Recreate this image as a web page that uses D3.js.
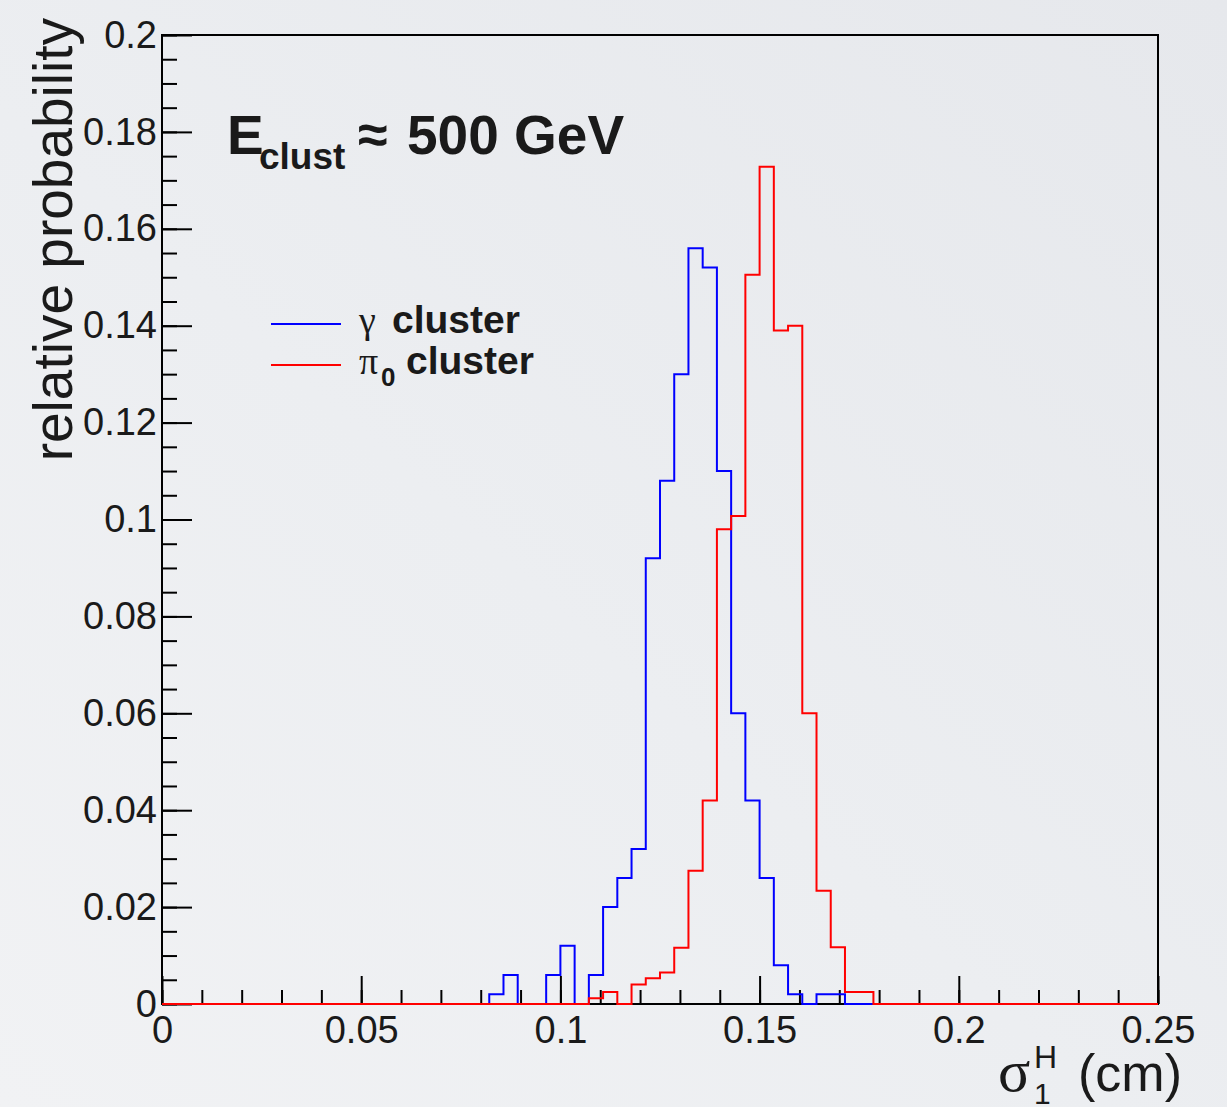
<!DOCTYPE html>
<html>
<head>
<meta charset="utf-8">
<script src="https://cdn.jsdelivr.net/npm/d3@7"></script>
<style>
  html, body { margin: 0; padding: 0; }
  body { width: 1227px; height: 1107px; overflow: hidden; }
  text { font-family: "Liberation Sans", Arial, Helvetica, sans-serif; fill: #1a1a1a; }
  .greek { font-family: "Liberation Serif", "DejaVu Serif", serif; }
</style>
</head>
<body>
<div id="drawing_region"></div>
<script>
// histogram: 70 bins between 0 and 0.25 cm
var nBins = 70;
var xMin = 0, xMax = 0.25;

// gamma cluster (blue), bin contents
var gammaValues = [
    0, 0, 0, 0, 0, 0, 0, 0, 0, 0,
    0, 0, 0, 0, 0, 0, 0, 0, 0, 0,
    0, 0, 0, 0.002, 0.006, 0, 0, 0.006, 0.012, 0,
    0.006, 0.020, 0.026, 0.032, 0.092, 0.108, 0.130, 0.156, 0.152, 0.110,
    0.060, 0.042, 0.026, 0.008, 0.002, 0, 0.002, 0.002, 0, 0,
    0, 0, 0, 0, 0, 0, 0, 0, 0, 0,
    0, 0, 0, 0, 0, 0, 0, 0, 0, 0
];

// pi0 cluster (red), bin contents
var pi0Values = [
    0, 0, 0, 0, 0, 0, 0, 0, 0, 0,
    0, 0, 0, 0, 0, 0, 0, 0, 0, 0,
    0, 0, 0, 0, 0, 0, 0, 0, 0, 0,
    0.0012, 0.0025, 0, 0.004, 0.0053, 0.0065, 0.0116, 0.0275, 0.042, 0.098,
    0.1007, 0.1505, 0.1728, 0.139, 0.140, 0.060, 0.0234, 0.0117, 0.0025, 0.0025,
    0, 0, 0, 0, 0, 0, 0, 0, 0, 0,
    0, 0, 0, 0, 0, 0, 0, 0, 0, 0
];

var xTicks = [0, 0.05, 0.1, 0.15, 0.2, 0.25];
var xTickLabels = ["0", "0.05", "0.1", "0.15", "0.2", "0.25"];
var yTicks = [0, 0.02, 0.04, 0.06, 0.08, 0.1, 0.12, 0.14, 0.16, 0.18, 0.2];
var yTickLabels = ["0", "0.02", "0.04", "0.06", "0.08", "0.1", "0.12", "0.14", "0.16", "0.18", "0.2"];

var width = 1227;
var height = 1107;
var margin = { "top": 35, "bottom": 103, "right": 69, "left": 162 };

var svg = d3.select("#drawing_region")
    .append("svg")
    .attr("width", width)
    .attr("height", height);

// soft grey background
var grad = svg.append("defs").append("linearGradient")
    .attr("id", "bg")
    .attr("x1", "100%").attr("y1", "0%")
    .attr("x2", "0%").attr("y2", "100%");
grad.append("stop").attr("offset", "0%").attr("stop-color", "#e6e8ec");
grad.append("stop").attr("offset", "55%").attr("stop-color", "#eceef1");
grad.append("stop").attr("offset", "100%").attr("stop-color", "#f1f2f4");
svg.append("rect").attr("width", width).attr("height", height).attr("fill", "url(#bg)");

var xScale = d3.scaleLinear()
    .domain([xMin, xMax])
    .range([margin.left, width - margin.right]);

var yScale = d3.scaleLinear()
    .domain([0, 0.2])
    .range([height - margin.bottom, margin.top]);

// bin edges
var binWidth = (xMax - xMin) / nBins;
function toSteps(values) {
    var pts = values.map(function (v, i) { return [xMin + i * binWidth, v]; });
    pts.push([xMax, values[values.length - 1]]);
    return pts;
}

var line = d3.line()
    .x(function (d) { return xScale(d[0]); })
    .y(function (d) { return yScale(d[1]); })
    .curve(d3.curveStepAfter);

// frame
svg.append("rect")
    .attr("x", xScale(xMin))
    .attr("y", yScale(0.2))
    .attr("width", xScale(xMax) - xScale(xMin))
    .attr("height", yScale(0) - yScale(0.2))
    .attr("fill", "none")
    .attr("stroke", "#000")
    .attr("stroke-width", 2);

// x axis: minor then major ticks (pointing inward)
var xMinor = d3.range(0, 26).map(function (i) { return i * 0.01; });
svg.append("g")
    .attr("transform", "translate(0," + yScale(0) + ")")
    .call(d3.axisBottom(xScale).tickValues(xMinor).tickSize(-14).tickFormat(""))
    .call(function (g) { g.select(".domain").remove(); });

var xAxis = svg.append("g")
    .attr("transform", "translate(0," + yScale(0) + ")")
    .call(d3.axisBottom(xScale).tickValues(xTicks).tickSize(-28).tickPadding(12)
        .tickFormat(function (d, i) { return xTickLabels[i]; }));
xAxis.select(".domain").remove();

// y axis
var yMinor = d3.range(0, 41).map(function (i) { return i * 0.005; });
svg.append("g")
    .attr("transform", "translate(" + xScale(0) + ",0)")
    .call(d3.axisLeft(yScale).tickValues(yMinor).tickSize(-15).tickFormat(""))
    .call(function (g) { g.select(".domain").remove(); });

var yAxis = svg.append("g")
    .attr("transform", "translate(" + xScale(0) + ",0)")
    .call(d3.axisLeft(yScale).tickValues(yTicks).tickSize(-30).tickPadding(5)
        .tickFormat(function (d, i) { return yTickLabels[i]; }));
yAxis.select(".domain").remove();

svg.selectAll(".tick line").attr("stroke", "#000").attr("stroke-width", 2);
svg.selectAll(".tick text")
    .style("font-family", "'Liberation Sans', Arial, sans-serif")
    .style("font-size", "38px")
    .attr("fill", "#1a1a1a");

// histograms
svg.append("path")
    .datum(toSteps(gammaValues))
    .attr("d", line)
    .attr("fill", "none")
    .attr("stroke", "#0000ff")
    .attr("stroke-width", 2);

svg.append("path")
    .datum(toSteps(pi0Values))
    .attr("d", line)
    .attr("fill", "none")
    .attr("stroke", "#ff0000")
    .attr("stroke-width", 2);

// axis titles
svg.append("text")
    .attr("transform", "translate(72,18) rotate(-90)")
    .attr("text-anchor", "end")
    .style("font-size", "55px")
    .text("relative probability");

var xt = svg.append("g");
xt.append("text").attr("class", "greek").attr("x", 998).attr("y", 1091)
    .style("font-size", "60px").text("σ");
xt.append("text").attr("x", 1034).attr("y", 1068)
    .style("font-size", "32px").text("H");
xt.append("text").attr("x", 1034).attr("y", 1104)
    .style("font-size", "30px").text("1");
xt.append("text").attr("x", 1182).attr("y", 1091)
    .attr("text-anchor", "end")
    .style("font-size", "52px").text("(cm)");

// label E_clust ~ 500 GeV
var lab = svg.append("g").style("font-weight", "bold");
lab.append("text").attr("x", 227).attr("y", 154).style("font-size", "55px").text("E");
lab.append("text").attr("x", 259).attr("y", 169).style("font-size", "37px").text("clust");
lab.append("text").attr("x", 358).attr("y", 153).style("font-size", "54px")
    .text("≈");
lab.append("text").attr("x", 407).attr("y", 154).style("font-size", "55px").text("500 GeV");

// legend
var legend = [
    { color: "#0000ff", greek: "γ", sub: "", y: 324, textX: 392 },
    { color: "#ff0000", greek: "π", sub: "0", y: 365, textX: 406 }
];
var lg = svg.append("g").selectAll("g").data(legend).enter().append("g");
lg.append("line")
    .attr("x1", 271).attr("x2", 341)
    .attr("y1", function (d) { return d.y; })
    .attr("y2", function (d) { return d.y; })
    .attr("stroke", function (d) { return d.color; })
    .attr("stroke-width", 2);
lg.append("text").attr("class", "greek")
    .attr("x", 359).attr("y", function (d) { return d.y + 9; })
    .style("font-size", "38px")
    .text(function (d) { return d.greek; });
lg.append("text")
    .attr("x", 381).attr("y", function (d) { return d.y + 21; })
    .style("font-size", "26px").style("font-weight", "bold")
    .text(function (d) { return d.sub; });
lg.append("text")
    .attr("x", function (d) { return d.textX; })
    .attr("y", function (d) { return d.y + 9; })
    .style("font-size", "39px").style("font-weight", "bold")
    .text("cluster");
</script>
</body>
</html>
